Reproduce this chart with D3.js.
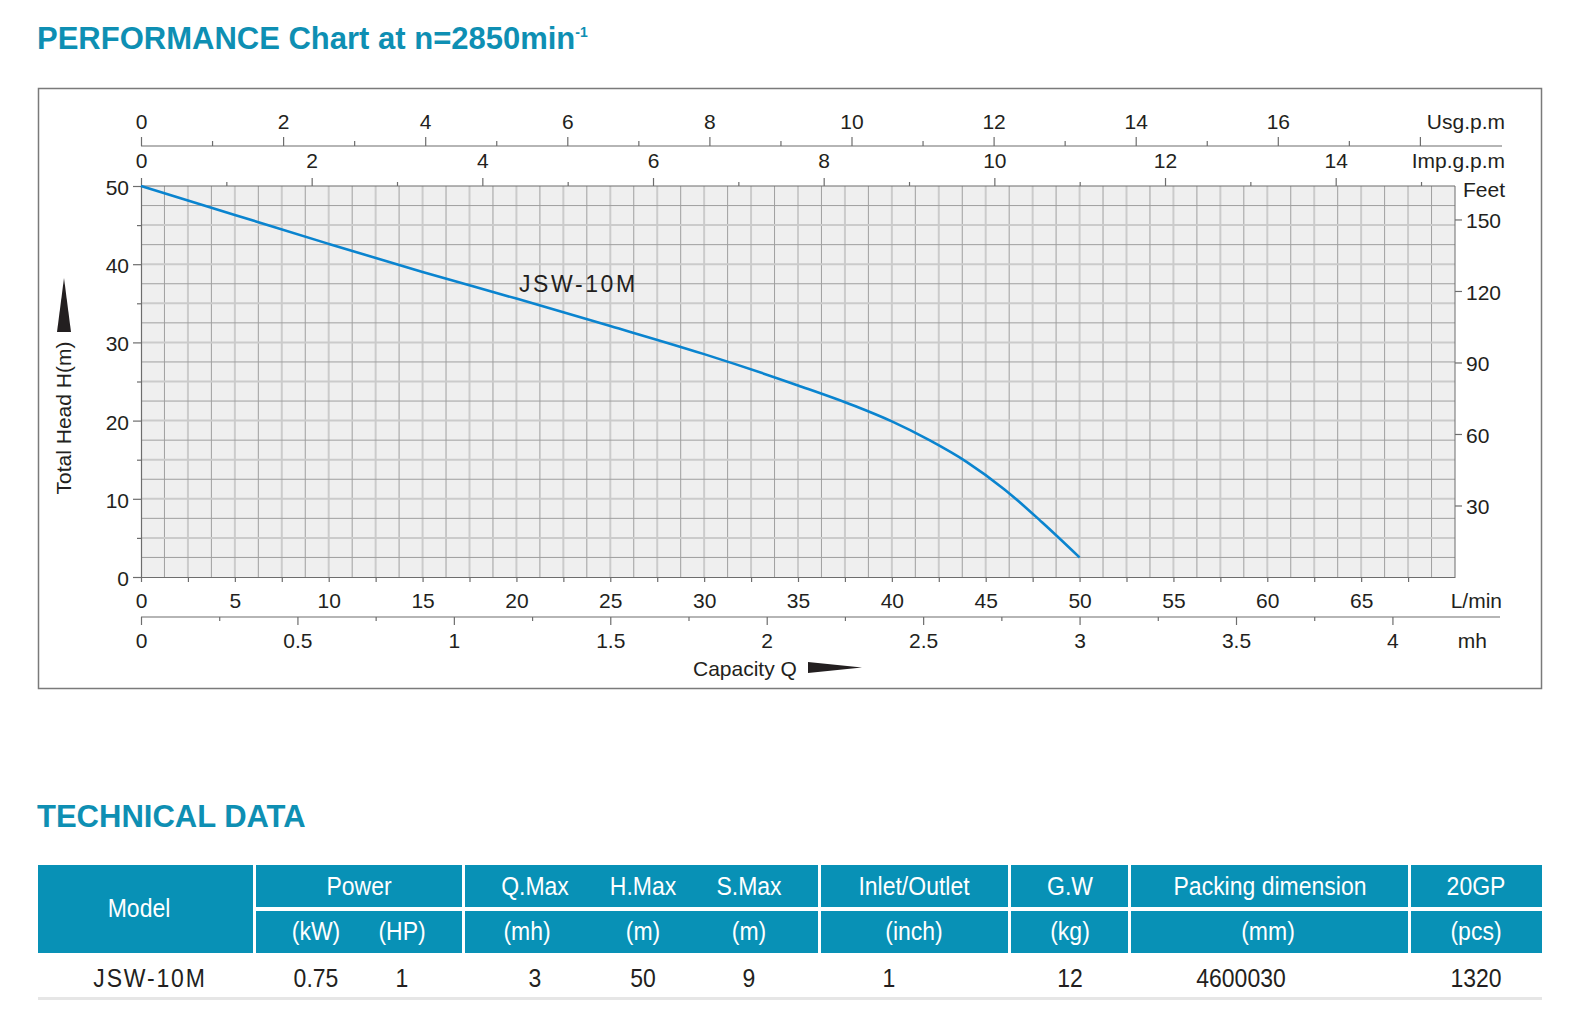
<!DOCTYPE html>
<html lang="en">
<head>
<meta charset="utf-8">
<script src="https://cdn.jsdelivr.net/npm/d3@7"></script>
<title>Performance chart</title>
<style>
body{
margin:0;
background:#ffffff;
font-family:'Liberation Sans', Arial, sans-serif;
}
svg{display:block;}
</style>
</head>
<body>
<svg width="1569" height="1030"></svg>
<script>
// curve: capacity (L/min) vs total head (m)
var flowLmin = [0, 5, 10, 15, 20, 25, 30, 35, 38, 40, 42, 44, 46, 48, 50];
var headM    = [50, 46.3, 42.6, 39.0, 35.6, 32.1, 28.5, 24.5, 21.9, 19.9, 17.5, 14.7, 11.2, 7.0, 2.5];
var modelName = "JSW-10M";

// tick values for every scale
var lminTicks  = d3.range(0, 70, 2.5);
var mhTicks    = d3.range(0, 4.2, 0.25);
var usgTicks   = d3.range(0, 19, 1);
var impTicks   = d3.range(0, 16, 1);
var headTicks  = d3.range(0, 51, 5);
var feetTicks  = [30, 60, 90, 120, 150];

// technical data table
var groupHeads = ["Power", "Q.Max", "H.Max", "S.Max", "Inlet/Outlet", "G.W", "Packing dimension", "20GP"];
var unitHeads  = ["(kW)", "(HP)", "(mh)", "(m)", "(m)", "(inch)", "(kg)", "(mm)", "(pcs)"];
var rowValues  = ["JSW-10M", "0.75", "1", "3", "50", "9", "1", "12", "4600030", "1320"];

var blue = "#0e8fb3";
var teal = "#0891b6";
var ink = "#231f20";
var axisCol = "#6d6d6d";

var svg = d3.select("svg");

// plot box
var pLeft = 141, pRight = 1455, pTop = 186, pBottom = 577;

var x = d3.scaleLinear().domain([0, 70]).range([pLeft, pRight]);
var y = d3.scaleLinear().domain([0, 50]).range([pBottom, pTop]);
var xUsg = d3.scaleLinear().domain([0, 70 / 3.785]).range([pLeft, pRight]);
var xImp = d3.scaleLinear().domain([0, 70 / 4.546]).range([pLeft, pRight]);
var xMh  = d3.scaleLinear().domain([0, 70 * 0.06]).range([pLeft, pRight]);
var yFt  = d3.scaleLinear().domain([0, 50 * 3.2808]).range([pBottom, pTop]);

// title
var title = svg.append("text")
.attr("x", 37).attr("y", 49)
.attr("fill", blue)
.attr("font-weight", 700)
.attr("font-size", 31)
.text("PERFORMANCE Chart at n=2850min");
title.append("tspan")
.attr("font-size", 14)
.attr("dy", -12)
.text("-1");

// frame
svg.append("rect")
.attr("x", 38.5).attr("y", 88.5)
.attr("width", 1503).attr("height", 600)
.attr("fill", "none")
.attr("stroke", "#7a7a7a")
.attr("stroke-width", 1.5);

// grid
svg.append("rect")
.attr("x", pLeft).attr("y", pTop)
.attr("width", pRight - pLeft).attr("height", pBottom - pTop)
.attr("fill", "#efefef");

var vLines = d3.range(1.25, 70, 1.25);
svg.append("g").selectAll("line")
.data(vLines).enter()
.append("line")
.attr("x1", function(d){return x(d)}).attr("x2", function(d){return x(d)})
.attr("y1", pTop).attr("y2", pBottom)
.attr("stroke", function(d){ if (d % 2.5 == 0) {return "#cbcbcb"} else {return "#9f9f9f"}})
.attr("stroke-width", function(d){ if (d % 2.5 == 0) {return 2} else {return 1}});

var hLines = d3.range(2.5, 50, 2.5);
svg.append("g").selectAll("line")
.data(hLines).enter()
.append("line")
.attr("x1", pLeft).attr("x2", pRight)
.attr("y1", function(d){return y(d)}).attr("y2", function(d){return y(d)})
.attr("stroke", function(d){ if (d % 5 == 0) {return "#cbcbcb"} else {return "#9f9f9f"}})
.attr("stroke-width", function(d){ if (d % 5 == 0) {return 2} else {return 1}});

// right edge of the grid
svg.append("line")
.attr("x1", pRight).attr("x2", pRight)
.attr("y1", pTop).attr("y2", pBottom)
.attr("stroke", axisCol).attr("stroke-width", 1);

function styleAxis(g){
  g.select(".domain").attr("stroke", axisCol).attr("stroke-width", 1.2);
  g.selectAll(".tick line").attr("stroke", axisCol).attr("stroke-width", 1.2);
  g.selectAll(".tick text").attr("fill", ink).attr("font-size", 21)
   .attr("font-family", "'Liberation Sans', Arial, sans-serif");
}

// left axis: head in metres
var gLeft = svg.append("g").attr("transform", "translate(" + pLeft + ",0)")
.call(d3.axisLeft(y).tickValues(headTicks).tickSizeOuter(0)
  .tickFormat(function(d){ return d % 10 == 0 ? d : ""; }));
styleAxis(gLeft);
gLeft.selectAll(".tick line").attr("x2", function(d){ return d % 10 == 0 ? -8 : -4; });
gLeft.selectAll(".tick text").attr("x", -12).attr("dy", "0.4em");

// right axis: feet
var gRight = svg.append("g").attr("transform", "translate(" + pRight + ",0)")
.call(d3.axisRight(yFt).tickValues(feetTicks).tickSize(7).tickPadding(4));
styleAxis(gRight);
gRight.select(".domain").remove();
gRight.selectAll(".tick text").attr("dy", "0.4em");

// bottom axis: L/min
var gBot = svg.append("g").attr("transform", "translate(0," + pBottom + ")")
.call(d3.axisBottom(x).tickValues(lminTicks).tickSize(5).tickSizeOuter(0)
  .tickFormat(function(d){ return d % 5 == 0 ? d : ""; }));
styleAxis(gBot);
gBot.selectAll(".tick text").attr("y", 31).attr("dy", 0);

// second bottom axis: m3/h
var mhY = 617;
var gMh = svg.append("g").attr("transform", "translate(0," + mhY + ")")
.call(d3.axisBottom(xMh).tickValues(mhTicks).tickSizeOuter(0)
  .tickFormat(function(d){ return (d * 2) % 1 == 0 ? d : ""; }));
styleAxis(gMh);
gMh.select(".domain").remove();
gMh.append("line").attr("x1", pLeft).attr("x2", 1500).attr("stroke", axisCol).attr("stroke-width", 1.2);
gMh.selectAll(".tick line").attr("y2", function(d){ return (d * 2) % 1 == 0 ? 8 : 4; });
gMh.selectAll(".tick text").attr("y", 31).attr("dy", 0);

// top axis: Imp.g.p.m (sits on the grid top)
var gImp = svg.append("g").attr("transform", "translate(0," + pTop + ")")
.call(d3.axisTop(xImp).tickValues(impTicks).tickSizeOuter(0)
  .tickFormat(function(d){ return d % 2 == 0 ? d : ""; }));
styleAxis(gImp);
gImp.select(".domain").remove();
gImp.append("line").attr("x1", pLeft).attr("x2", pRight).attr("stroke", axisCol).attr("stroke-width", 1.2);
gImp.selectAll(".tick line").attr("y2", function(d){ return d % 2 == 0 ? -8 : -4; });
gImp.selectAll(".tick text").attr("y", -18).attr("dy", 0);

// top axis: Usg.p.m
var usgY = 146;
var gUsg = svg.append("g").attr("transform", "translate(0," + usgY + ")")
.call(d3.axisTop(xUsg).tickValues(usgTicks).tickSizeOuter(0)
  .tickFormat(function(d){ return d % 2 == 0 && d < 18 ? d : ""; }));
styleAxis(gUsg);
gUsg.select(".domain").remove();
gUsg.append("line").attr("x1", pLeft).attr("x2", 1502).attr("stroke", axisCol).attr("stroke-width", 1.2);
gUsg.selectAll(".tick line").attr("y2", function(d){ return d % 2 == 0 ? -9 : -5; });
gUsg.selectAll(".tick text").attr("y", -17).attr("dy", 0);

// unit labels
var units = [
  ["Usg.p.m", 1505, 129],
  ["Imp.g.p.m", 1505, 168],
  ["Feet", 1505, 197],
  ["L/min", 1502, 608],
  ["mh", 1487, 648]
];
svg.append("g").selectAll("text")
.data(units).enter()
.append("text")
.attr("x", function(d){return d[1]})
.attr("y", function(d){return d[2]})
.attr("text-anchor", "end")
.attr("font-size", 21)
.attr("fill", ink)
.text(function(d){return d[0]});

// axis titles with arrows
svg.append("text")
.attr("transform", "translate(71,418) rotate(-90)")
.attr("text-anchor", "middle")
.attr("font-size", 21)
.attr("fill", ink)
.text("Total Head H(m)");
svg.append("path")
.attr("d", "M64,278 L57,332 L71,332 Z")
.attr("fill", ink);

svg.append("text")
.attr("x", 693).attr("y", 676)
.attr("font-size", 21)
.attr("fill", ink)
.text("Capacity Q");
svg.append("path")
.attr("d", "M808,662 L862,667.5 L808,673 Z")
.attr("fill", ink);

// performance curve
var pts = flowLmin.map(function(d, i){ return [d, headM[i]]; });
var line = d3.line()
.x(function(d){return x(d[0])})
.y(function(d){return y(d[1])})
.curve(d3.curveMonotoneX);

svg.append("path")
.datum(pts)
.attr("d", line)
.attr("fill", "none")
.attr("stroke", "#0a84cf")
.attr("stroke-width", 2.6);

svg.append("text")
.attr("x", 519).attr("y", 292)
.attr("font-size", 23)
.attr("letter-spacing", 2.6)
.attr("fill", ink)
.text(modelName);

// technical data
svg.append("text")
.attr("x", 37).attr("y", 827)
.attr("fill", blue)
.attr("font-weight", 700)
.attr("font-size", 31)
.text("TECHNICAL DATA");

var row1 = 865, row2 = 911, rowH = 42;

// header cells [x0, x1, y0, y1]
var cells = [
  [38, 253, row1, row2 + rowH],
  [256, 462, row1, row1 + rowH], [256, 462, row2, row2 + rowH],
  [465, 818, row1, row1 + rowH], [465, 818, row2, row2 + rowH],
  [821, 1008, row1, row1 + rowH], [821, 1008, row2, row2 + rowH],
  [1011, 1128, row1, row1 + rowH], [1011, 1128, row2, row2 + rowH],
  [1131, 1408, row1, row1 + rowH], [1131, 1408, row2, row2 + rowH],
  [1411, 1542, row1, row1 + rowH], [1411, 1542, row2, row2 + rowH]
];
svg.append("g").selectAll("rect")
.data(cells).enter()
.append("rect")
.attr("x", function(d){return d[0]})
.attr("y", function(d){return d[2]})
.attr("width", function(d){return d[1] - d[0]})
.attr("height", function(d){return d[3] - d[2]})
.attr("fill", teal);

function cellText(txt, cx, by, col){
  svg.append("text")
  .attr("transform", "translate(" + cx + "," + by + ") scale(0.92,1)")
  .attr("text-anchor", "middle")
  .attr("font-size", 25)
  .attr("fill", col)
  .text(txt);
}

var groupX = [359, 535, 643, 749, 914, 1070, 1270, 1476];
var unitX  = [316, 402, 527, 643, 749, 914, 1070, 1268, 1476];
var valueX = [150, 316, 402, 535, 643, 749, 889, 1070, 1241, 1476];

cellText("Model", 139, 917, "#ffffff");
groupHeads.forEach(function(d, i){ cellText(d, groupX[i], 895, "#ffffff"); });
unitHeads.forEach(function(d, i){ cellText(d, unitX[i], 940, "#ffffff"); });
rowValues.forEach(function(d, i){
  if (i == 0) {
    svg.append("text")
    .attr("transform", "translate(" + valueX[i] + ",987) scale(0.92,1)")
    .attr("text-anchor", "middle")
    .attr("font-size", 25)
    .attr("letter-spacing", 2)
    .attr("fill", ink)
    .text(d);
  } else {
    cellText(d, valueX[i], 987, ink);
  }
});

svg.append("rect")
.attr("x", 38).attr("y", 997)
.attr("width", 1504).attr("height", 3)
.attr("fill", "#e6e6e6");
</script>
</body>
</html>
